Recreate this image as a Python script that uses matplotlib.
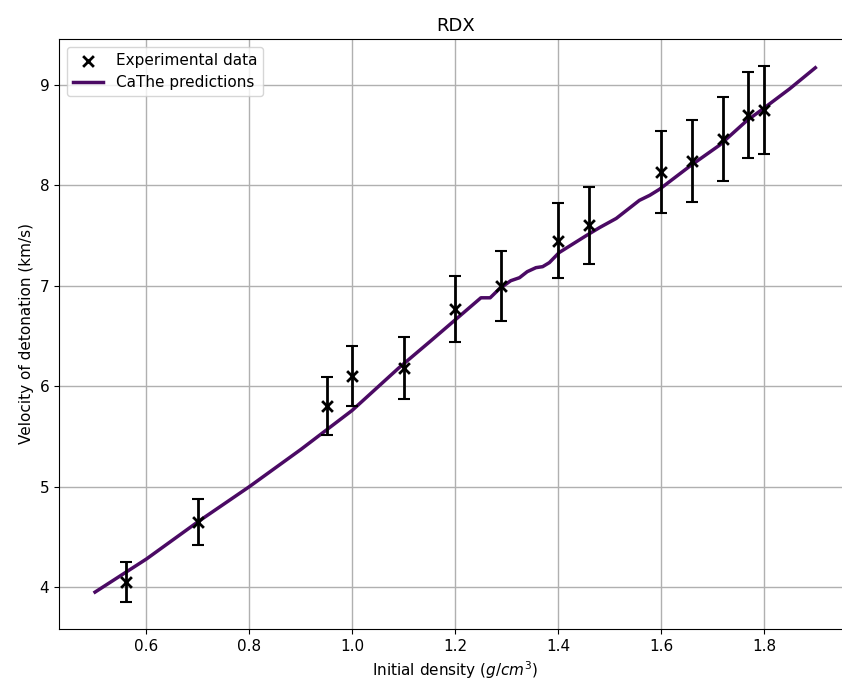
import numpy as np
import matplotlib.pyplot as plt

# experimental data (RDX)
rho_exp = [0.56, 0.70, 0.95, 1.00, 1.10, 1.20, 1.29, 1.40, 1.46, 1.60, 1.66, 1.72, 1.77, 1.80]
vod_exp = [4.05, 4.65, 5.80, 6.10, 6.18, 6.77, 7.00, 7.45, 7.60, 8.13, 8.24, 8.46, 8.70, 8.75]
vod_err = [0.20, 0.23, 0.29, 0.30, 0.31, 0.33, 0.35, 0.37, 0.38, 0.41, 0.41, 0.42, 0.43, 0.44]

# CaThe predictions
rho_pred = [0.50, 0.60, 0.70, 0.80, 0.90, 1.00, 1.09, 1.15, 1.20, 1.25, 1.268, 1.286, 1.308,
            1.325, 1.340, 1.357, 1.370, 1.383, 1.402, 1.455, 1.481, 1.513, 1.558, 1.578,
            1.597, 1.656, 1.714, 1.766, 1.798, 1.85, 1.90]
vod_pred = [3.95, 4.28, 4.65, 5.00, 5.37, 5.76, 6.18, 6.44, 6.66, 6.88, 6.88, 6.97, 7.05,
            7.08, 7.14, 7.18, 7.19, 7.23, 7.33, 7.50, 7.58, 7.67, 7.85, 7.90,
            7.96, 8.19, 8.40, 8.64, 8.76, 8.96, 9.17]

fig = plt.figure(figsize=(8.42, 6.88), dpi=100)
# the original was cropped on the right, so the axes run past the figure edge
ax = fig.add_axes([0.0701, 0.0858, 0.941, 0.8576])

ax.errorbar(rho_exp, vod_exp, yerr=vod_err, fmt='none', ecolor='black',
            elinewidth=2, capsize=4, capthick=1.5, zorder=3)
ax.scatter(rho_exp, vod_exp, marker='x', color='black', s=60, linewidths=2,
           label='Experimental data', zorder=4)
ax.plot(rho_pred, vod_pred, color='#4b0a64', linewidth=2.5, label='CaThe predictions', zorder=2)

ax.set_xlabel('Initial density ($g/cm^3$)', fontsize=11)
ax.set_ylabel('Velocity of detonation (km/s)', fontsize=11)
ax.set_title('RDX', fontsize=13)
ax.tick_params(labelsize=11)
ax.grid(True, color='#b0b0b0', linewidth=1)
ax.set_axisbelow(True)
ax.legend(loc='upper left', fontsize=11)

fig.savefig('out.png', dpi=100)
